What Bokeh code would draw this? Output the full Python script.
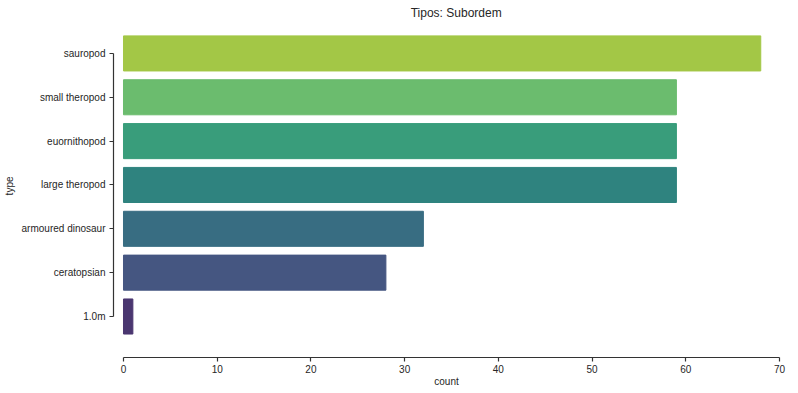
from bokeh.plotting import figure
from bokeh.models import ColumnDataSource, FixedTicker, Range1d, Label
from bokeh.embed import file_html
from bokeh.resources import INLINE

title_text = "Tipos: Subordem"
categories = ["sauropod", "small theropod", "euornithopod", "large theropod",
              "armoured dinosaur", "ceratopsian", "1.0m"]
counts = [68, 59, 59, 59, 32, 28, 1]
colors = ["#a3c746", "#6bbc6e", "#399d7b", "#2f837f", "#386d82", "#455681", "#4a3670"]
x_ticks = [0, 10, 20, 30, 40, 50, 60, 70]

n = len(categories)
ypos = [n - 1 - i for i in range(n)]
src = ColumnDataSource(dict(y=ypos, count=counts, color=colors, cat=categories))

FONT = "Liberation Sans"
TXT = "#262626"

p = figure(width=798, height=393, output_backend="svg", toolbar_location=None,
           x_range=Range1d(-1.067, 70), y_range=Range1d(-0.935, 7.207),
           min_border_left=113, min_border_right=19, min_border_top=0,
           min_border_bottom=36)
p.hbar(y="y", right="count", left=0, height=0.8, color="color", source=src)

p.add_layout(Label(x=35.5, y=6.93, text=title_text, text_align="center",
                   text_baseline="middle", text_font=FONT, text_font_size="12px",
                   text_color=TXT))

p.outline_line_color = None
p.xgrid.grid_line_color = None
p.ygrid.grid_line_color = None

for ax in (p.xaxis[0], p.yaxis[0]):
    ax.axis_line_color = "#333333"
    ax.major_tick_line_color = "#333333"
    ax.axis_line_width = 1.2
    ax.major_tick_line_width = 1.2
    ax.major_tick_out = 4
    ax.major_tick_in = 0
    ax.minor_tick_line_color = None
    ax.major_label_text_font = FONT
    ax.major_label_text_font_size = "10px"
    ax.major_label_text_color = TXT
    ax.axis_label_text_font = FONT
    ax.axis_label_text_font_size = "10px"
    ax.axis_label_text_font_style = "normal"
    ax.axis_label_text_color = TXT

p.xaxis.ticker = FixedTicker(ticks=x_ticks)
p.xaxis.bounds = (0, 70)
p.xaxis.axis_label = "count"
p.xaxis.major_label_standoff = 3
p.xaxis.axis_label_standoff = 0

p.yaxis.ticker = FixedTicker(ticks=ypos)
p.yaxis.major_label_overrides = {y: c for y, c in zip(ypos, categories)}
p.yaxis.bounds = (0, n - 1)
# trailing no-break spaces shift the centred label down to the axes' centre
p.yaxis.axis_label = "type" + "\u00a0" * 5
p.yaxis.major_label_standoff = 4
p.yaxis.axis_label_standoff = 4

open("out.html", "w").write(file_html(p, INLINE))
